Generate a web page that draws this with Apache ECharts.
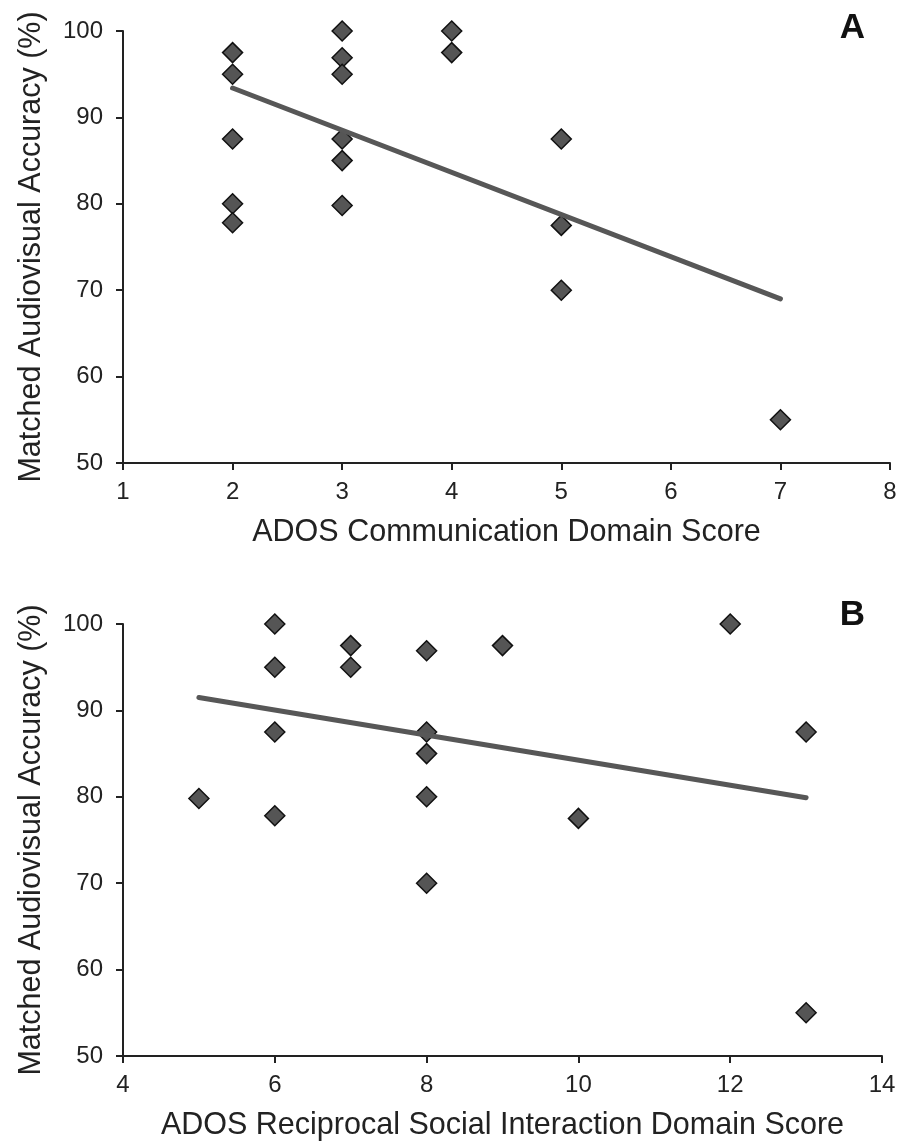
<!DOCTYPE html>
<html>
<head>
<meta charset="utf-8">
<script src="https://cdn.jsdelivr.net/npm/echarts@6/dist/echarts.min.js"></script>
<style>
html,body{margin:0;padding:0;background:#fff;}
#chart{width:900px;height:1148px;}
</style>
</head>
<body>
<div id="chart"></div>
<script>
// Panel A: ADOS Communication Domain Score vs accuracy
const commScores = [2, 2, 2, 2, 2, 3, 3, 3, 3, 3, 3, 4, 4, 5, 5, 5, 7];
const commAccuracy = [97.5, 95, 87.5, 80, 77.8, 100, 96.9, 95, 87.5, 85, 79.8, 100, 97.5, 87.5, 77.5, 70, 55];
const commTrendX = [2, 7];
const commTrendY = [93.4, 69.0];

// Panel B: ADOS Reciprocal Social Interaction Domain Score vs accuracy
const socialScores = [5, 6, 6, 6, 6, 7, 7, 8, 8, 8, 8, 8, 9, 10, 12, 13, 13];
const socialAccuracy = [79.8, 100, 95, 87.5, 77.8, 97.5, 95, 96.9, 87.5, 85, 80, 70, 97.5, 77.5, 100, 87.5, 55];
const socialTrendX = [5, 13];
const socialTrendY = [91.5, 79.9];

const yTitle = 'Matched Audiovisual Accuracy (%)';
const xTitleA = 'ADOS Communication Domain Score';
const xTitleB = 'ADOS Reciprocal Social Interaction Domain Score';

const FONT = '"Liberation Sans", Arial, sans-serif';
const pair = (xs, ys) => xs.map((x, i) => [x, ys[i]]);

function xAxisCfg(gridIndex, min, max, interval, name) {
  return {
    type: 'value', gridIndex, min, max, interval, name,
    nameLocation: 'middle', nameGap: 54,
    nameTextStyle: {fontFamily: FONT, fontSize: 30.5, color: '#222'},
    splitLine: {show: false},
    axisLine: {lineStyle: {color: '#222', width: 2}},
    axisTick: {length: 7, lineStyle: {color: '#222', width: 2}},
    axisLabel: {fontFamily: FONT, fontSize: 24, color: '#222', margin: 17}
  };
}
function yAxisCfg(gridIndex) {
  return {
    type: 'value', gridIndex, min: 50, max: 100, interval: 10, name: yTitle,
    nameLocation: 'middle', nameGap: 76, nameRotate: 90,
    nameTextStyle: {fontFamily: FONT, fontSize: 30.5, color: '#222'},
    splitLine: {show: false},
    axisLine: {lineStyle: {color: '#222', width: 2}},
    axisTick: {length: 7, lineStyle: {color: '#222', width: 2}},
    axisLabel: {fontFamily: FONT, fontSize: 24, color: '#222', margin: 20}
  };
}
function scatter(idx, data) {
  return {
    type: 'scatter', xAxisIndex: idx, yAxisIndex: idx, data,
    symbol: 'diamond', symbolSize: 20,
    itemStyle: {color: '#555555', borderColor: '#111', borderWidth: 1.5, opacity: 1},
    z: 3
  };
}
function trend(idx, data) {
  return {
    type: 'line', xAxisIndex: idx, yAxisIndex: idx, data,
    showSymbol: false, symbol: 'none',
    lineStyle: {color: '#575757', width: 5, cap: 'round'},
    z: 4
  };
}

const chart = echarts.init(document.getElementById('chart'), null, {renderer: 'canvas'});
chart.setOption({
  backgroundColor: '#ffffff',
  animation: false,
  title: [
    {text: 'A', right: 30, top: 6, textStyle: {fontFamily: FONT, fontSize: 35, fontWeight: 'bold', color: '#111'}},
    {text: 'B', right: 30, top: 593, textStyle: {fontFamily: FONT, fontSize: 35, fontWeight: 'bold', color: '#111'}}
  ],
  grid: [
    {left: 123, right: 10, top: 31, height: 432},
    {left: 123, right: 18, top: 624, height: 432}
  ],
  xAxis: [
    xAxisCfg(0, 1, 8, 1, xTitleA),
    xAxisCfg(1, 4, 14, 2, xTitleB)
  ],
  yAxis: [yAxisCfg(0), yAxisCfg(1)],
  series: [
    scatter(0, pair(commScores, commAccuracy)),
    trend(0, pair(commTrendX, commTrendY)),
    scatter(1, pair(socialScores, socialAccuracy)),
    trend(1, pair(socialTrendX, socialTrendY))
  ]
});
</script>
</body>
</html>
